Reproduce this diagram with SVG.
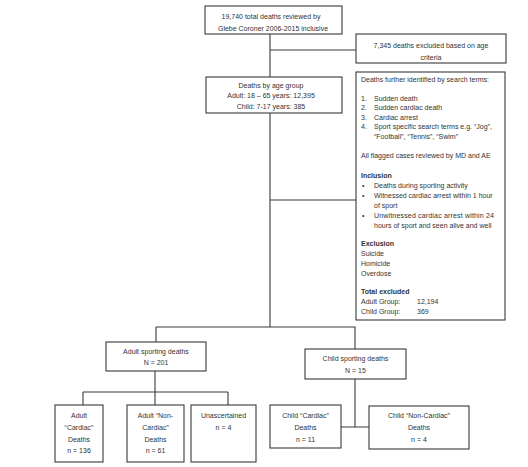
<svg xmlns="http://www.w3.org/2000/svg" width="528" height="467" viewBox="0 0 528 467">
<style>
.box{fill:#fff;stroke:#3a3a3a;stroke-width:1.1}
.ln{fill:none;stroke:#3a3a3a;stroke-width:1.1}
text{font-family:"Liberation Sans",Arial,sans-serif;font-size:7px;fill:#333}
.c{text-anchor:middle}
.b{font-weight:bold}
</style>
<rect width="528" height="467" fill="#fff"/>
<g id="connectors">
<path class="ln" d="M270,34 V77 M270,50 H356 M270,113 V327 M270,200 H356 M156,327 H355 V349 M156,327 V342 M155,371 V405 M83,392 H228 M83,392 V405 M228,392 V405 M355,379 V427 M341,427 H369"/>
</g>
<g id="n1"><rect class="box" x="205" y="6" width="137" height="28"/>
<text class="c" x="271" y="19">19,740 total deaths reviewed by</text>
<text class="c" x="273" y="31">Glebe Coroner 2006-2015 inclusive</text></g>
<g id="n2"><rect class="box" x="356" y="34" width="150" height="29"/>
<text class="c" x="431" y="47.5">7,345 deaths excluded based on age</text>
<text class="c" x="431" y="59.5">criteria</text></g>
<g id="n3"><rect class="box" x="206" y="77" width="136" height="36"/>
<text class="c" x="271" y="87.5">Deaths by age group</text>
<text class="c" x="271" y="98">Adult: 18 – 65 years: 12,395</text>
<text class="c" x="271" y="108.5">Child: 7-17 years: 385</text></g>
<g id="n4"><rect class="box" x="356" y="72" width="149" height="248"/>
<text x="361" y="81.5">Deaths further identified by search terms:</text>
<text x="361" y="100.5">1.</text><text x="374" y="100.5">Sudden death</text>
<text x="361" y="110">2.</text><text x="374" y="110">Sudden cardiac death</text>
<text x="361" y="119.5">3.</text><text x="374" y="119.5">Cardiac arrest</text>
<text x="361" y="129">4.</text><text x="374" y="129">Sport specific search terms e.g. “Jog”,</text>
<text x="374" y="138.5">“Football”, “Tennis”, “Swim”</text>
<text x="361" y="157.5">All flagged cases reviewed by MD and AE</text>
<text class="b" x="361" y="177.5">Inclusion</text>
<text x="362" y="187.5">•</text><text x="374" y="187.5">Deaths during sporting activity</text>
<text x="362" y="197.5">•</text><text x="374" y="197.5">Witnessed cardiac arrest within 1 hour</text>
<text x="374" y="208">of sport</text>
<text x="362" y="217.5">•</text><text x="374" y="217.5" textLength="120" lengthAdjust="spacing">Unwitnessed cardiac arrest within 24</text>
<text x="374" y="227.5">hours of sport and seen alive and well</text>
<text class="b" x="361" y="245.5">Exclusion</text>
<text x="361" y="255.5">Suicide</text>
<text x="361" y="265.5">Homicide</text>
<text x="361" y="275.5">Overdose</text>
<text class="b" x="361" y="293.5">Total excluded</text>
<text x="361" y="303.5">Adult Group:</text><text x="417" y="303.5">12,194</text>
<text x="361" y="313.5">Child Group:</text><text x="417" y="313.5">369</text></g>
<g id="n5"><rect class="box" x="106" y="342" width="100" height="29"/>
<text class="c" x="156" y="354">Adult sporting deaths</text>
<text class="c" x="156" y="365">N = 201</text></g>
<g id="n6"><rect class="box" x="305" y="349" width="101" height="30"/>
<text class="c" x="355.5" y="360.5">Child sporting deaths</text>
<text class="c" x="355.5" y="373">N = 15</text></g>
<g id="n7"><rect class="box" x="55" y="405" width="48" height="57"/>
<text class="c" x="79" y="417.5">Adult</text>
<text class="c" x="79" y="430">“Cardiac”</text>
<text class="c" x="79" y="441.5">Deaths</text>
<text class="c" x="79" y="453">n = 136</text></g>
<g id="n8"><rect class="box" x="127" y="405" width="57" height="57"/>
<text class="c" x="155.5" y="417.5">Adult “Non-</text>
<text class="c" x="155.5" y="430">Cardiac”</text>
<text class="c" x="155.5" y="441.5">Deaths</text>
<text class="c" x="155.5" y="453">n = 61</text></g>
<g id="n9"><rect class="box" x="191" y="405" width="65" height="57"/>
<text class="c" x="223.5" y="417.5">Unascertained</text>
<text class="c" x="223.5" y="430">n = 4</text></g>
<g id="n10"><rect class="box" x="270" y="405" width="71" height="43"/>
<text class="c" x="305.5" y="417.5">Child “Cardiac”</text>
<text class="c" x="305.5" y="429.5">Deaths</text>
<text class="c" x="305.5" y="441.5">n = 11</text></g>
<g id="n11"><rect class="box" x="369" y="406" width="100" height="43"/>
<text class="c" x="419" y="417.5">Child “Non-Cardiac”</text>
<text class="c" x="419" y="429.5">Deaths</text>
<text class="c" x="419" y="441.5">n = 4</text></g>
</svg>
